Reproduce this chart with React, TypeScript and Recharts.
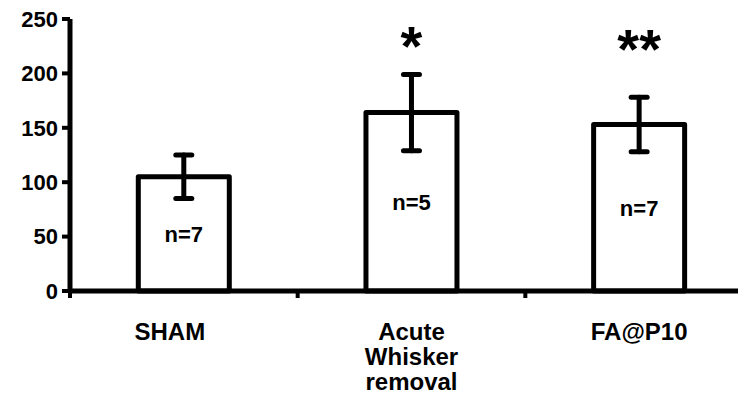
import React from "react";
import {
  ComposedChart,
  Bar,
  Line,
  XAxis,
  YAxis,
  ErrorBar,
  LabelList,
} from "recharts";

const categories = ["SHAM", "Acute Whisker removal", "FA@P10"];
const means = [105, 164, 153];
const sems = [20, 35, 25];
const nCounts = [7, 5, 7];
const sigMarks = ["", "*", "**"];
const sigLevels = [null, 237, 234];
const yTicks = [0, 50, 100, 150, 200, 250];

const data = categories.map((name, i) => ({
  name,
  mean: means[i],
  err: sems[i],
  n: nCounts[i],
  mark: sigMarks[i],
  sig: sigLevels[i],
}));

const FONT = "'Liberation Sans', Arial, Helvetica, sans-serif";

const CategoryTick = (props: any) => {
  const { x, y, payload, index, width, visibleTicksCount } = props;
  const words = String(payload.value).split(" ");
  const nudge = index === 0 ? -14 : 0;
  const count = visibleTicksCount || categories.length;
  const half = (width || 0) / count / 2;
  return (
    <g>
      <line
        x1={x - half}
        x2={x - half}
        y1={y - 2}
        y2={y + 7}
        stroke="#000"
        strokeWidth={4}
      />
      <text
        x={x + nudge}
        y={y}
        textAnchor="middle"
        fontFamily={FONT}
        fontWeight="bold"
        fontSize={24}
        fill="#000"
      >
        {words.map((w, i) => (
          <tspan key={i} x={x + nudge} dy={i === 0 ? 49 : 25}>
            {w}
          </tspan>
        ))}
      </text>
    </g>
  );
};

const SigDot = (props: any) => {
  const { cx, cy, payload } = props;
  if (payload == null || !payload.mark || cy == null || isNaN(cy)) return <g />;
  const fs = 56;
  return (
    <text
      x={cx}
      y={cy + fs * 0.565}
      textAnchor="middle"
      fontFamily={FONT}
      fontWeight="bold"
      fontSize={fs}
      fill="#000"
    >
      {payload.mark}
    </text>
  );
};

export default function App() {
  return (
    <div
      style={{
        margin: -8,
        width: 746,
        height: 410,
        overflow: "hidden",
        background: "#fff",
      }}
    >
      <ComposedChart
        width={753}
        height={410}
        data={data}
        margin={{ top: 19, right: 0, left: 0, bottom: 0 }}
        barCategoryGap="30%"
      >
        <XAxis
          dataKey="name"
          type="category"
          height={119}
          axisLine={{ stroke: "#000", strokeWidth: 5 }}
          tickLine={false}
          tickSize={0}
          tickMargin={0}
          interval={0}
          tick={<CategoryTick />}
        />
        <YAxis
          width={70}
          domain={[0, 250]}
          ticks={yTicks}
          interval={0}
          tickSize={8}
          tickMargin={4}
          axisLine={{ stroke: "#000", strokeWidth: 5 }}
          tickLine={{ stroke: "#000", strokeWidth: 4 }}
          tick={{ fontSize: 22, fontWeight: "bold", fill: "#000", fontFamily: FONT }}
        />
        <Bar
          dataKey="mean"
          fill="#fff"
          stroke="#000"
          strokeWidth={5}
          strokeLinejoin="round"
          isAnimationActive={false}
        >
          <ErrorBar
            dataKey="err"
            width={8}
            stroke="#000"
            strokeWidth={5}
            strokeLinecap="round"
            direction="y"
          />
          <LabelList
            dataKey="n"
            position="center"
            formatter={(v: any) => `n=${v}`}
            fill="#000"
            stroke="none"
            fontSize={22}
            fontWeight="bold"
            fontFamily={FONT}
          />
        </Bar>
        <Line
          dataKey="sig"
          stroke="none"
          dot={<SigDot />}
          activeDot={false}
          legendType="none"
          connectNulls={false}
          isAnimationActive={false}
        />
      </ComposedChart>
    </div>
  );
}
